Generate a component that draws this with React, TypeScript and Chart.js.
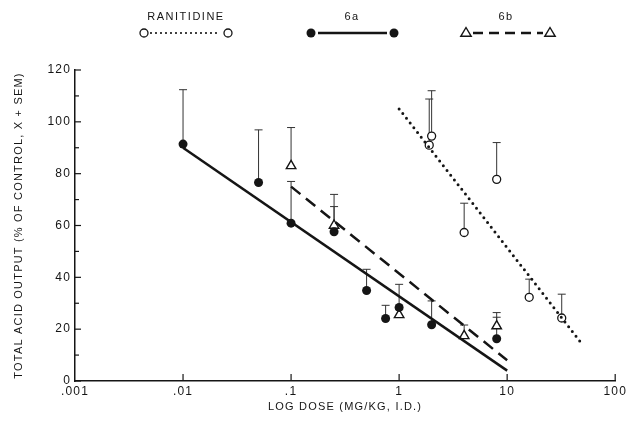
import React, { useEffect, useRef } from "react";
import { Chart, registerables } from "chart.js";

Chart.register(...registerables);

// ---- data ----
const xTickValues = [0.001, 0.01, 0.1, 1, 10, 100];
const xTickLabels = [".001", ".01", ".1", "1", "10", "100"];
const yTickValues = [0, 20, 40, 60, 80, 100, 120];
const yMinorStep = 10;

const seriesNames = ["RANITIDINE", "6a", "6b"];

const ranitidineDose = [1.9, 2.0, 4, 8, 16, 32];
const ranitidineMean = [91, 94.5, 57.3, 77.8, 32.3, 24.3];
const ranitidineSem = [17.8, 17.5, 11.3, 14.2, 7, 9.2];

const dose6a = [0.01, 0.05, 0.1, 0.25, 0.5, 0.75, 1, 2, 8];
const mean6a = [91.4, 76.6, 60.9, 57.6, 34.9, 24.1, 28.4, 21.7, 16.3];
const sem6a = [21, 20.3, 16.1, 9.7, 8.2, 5.1, 8.9, 9.2, 8.3];

const dose6b = [0.1, 0.25, 1, 4, 8];
const mean6b = [83, 60, 25.5, 17.4, 21.2];
const sem6b = [14.8, 12, 2, 4.2, 5.2];

const ranitidineFitDose = [1, 50];
const ranitidineFitValue = [105, 14];
const fit6aDose = [0.01, 10];
const fit6aValue = [90, 4];
const fit6bDose = [0.1, 10];
const fit6bValue = [75, 8];

const FONT = 'Arial, "Liberation Sans", Helvetica, sans-serif';
const INK = "#151515";

const toPoints = (xs: number[], ys: number[]) => xs.map((x, i) => ({ x, y: ys[i] }));

function drawMarker(ctx: CanvasRenderingContext2D, kind: string, x: number, y: number) {
  ctx.save();
  ctx.strokeStyle = INK;
  if (kind === "open") {
    ctx.fillStyle = "#fff";
    ctx.lineWidth = 1.3;
    ctx.beginPath();
    ctx.arc(x, y, 4, 0, Math.PI * 2);
    ctx.fill();
    ctx.stroke();
  } else if (kind === "filled") {
    ctx.fillStyle = INK;
    ctx.beginPath();
    ctx.arc(x, y, 4.5, 0, Math.PI * 2);
    ctx.fill();
  } else {
    ctx.fillStyle = "#fff";
    ctx.lineWidth = 1.4;
    const r = 5.5;
    ctx.beginPath();
    ctx.moveTo(x, y - r);
    ctx.lineTo(x + r * 0.95, y + r * 0.6);
    ctx.lineTo(x - r * 0.95, y + r * 0.6);
    ctx.closePath();
    ctx.fill();
    ctx.stroke();
  }
  ctx.restore();
}

const spacingPlugin = {
  id: "spacing",
  beforeUpdate(chart: any) {
    (chart.ctx as any).letterSpacing = "1.2px";
  },
  beforeDraw(chart: any) {
    (chart.ctx as any).letterSpacing = "1.2px";
  },
};

const errorBarPlugin = {
  id: "errorBars",
  beforeDatasetsDraw(chart: any) {
    const { ctx, scales } = chart;
    chart.data.datasets.forEach((ds: any) => {
      if (!ds.sem) return;
      ctx.save();
      ctx.strokeStyle = "#333";
      ctx.lineWidth = 1;
      ds.data.forEach((p: any, i: number) => {
        const x = scales.x.getPixelForValue(p.x);
        const y0 = scales.y.getPixelForValue(p.y);
        const y1 = scales.y.getPixelForValue(p.y + ds.sem[i]);
        ctx.beginPath();
        ctx.moveTo(x, y0);
        ctx.lineTo(x, y1);
        ctx.moveTo(x - 4, y1);
        ctx.lineTo(x + 4, y1);
        ctx.stroke();
      });
      ctx.restore();
    });
  },
};

const axisTickPlugin = {
  id: "axisTicks",
  afterDraw(chart: any) {
    const { ctx, scales, chartArea } = chart;
    ctx.save();
    ctx.strokeStyle = INK;
    ctx.lineWidth = 1.2;
    for (let v = 0; v <= 120; v += yMinorStep) {
      const y = scales.y.getPixelForValue(v);
      const len = v % 20 === 0 ? 6 : 4;
      ctx.beginPath();
      ctx.moveTo(chartArea.left, y);
      ctx.lineTo(chartArea.left + len, y);
      ctx.stroke();
    }
    xTickValues.slice(1).forEach((v) => {
      const x = scales.x.getPixelForValue(v);
      ctx.beginPath();
      ctx.moveTo(x, chartArea.bottom);
      ctx.lineTo(x, chartArea.bottom - 7);
      ctx.stroke();
    });
    ctx.restore();
  },
};

const legendPlugin = {
  id: "customLegend",
  afterDraw(chart: any) {
    const { ctx } = chart;
    const items = [
      { name: seriesNames[0], cx: 186, x0: 144, x1: 228, marker: "open", dash: [0, 5], cap: "round", width: 2.2 },
      { name: seriesNames[1], cx: 352, x0: 311, x1: 394, marker: "filled", dash: [], cap: "butt", width: 2.5 },
      { name: seriesNames[2], cx: 506, x0: 466, x1: 550, marker: "tri", dash: [10, 6], cap: "butt", width: 2.5 },
    ];
    ctx.save();
    (ctx as any).letterSpacing = "1.5px";
    ctx.fillStyle = INK;
    ctx.font = `11px ${FONT}`;
    ctx.textAlign = "center";
    ctx.textBaseline = "middle";
    items.forEach((it) => {
      ctx.fillText(it.name, it.cx, 17);
      ctx.save();
      ctx.strokeStyle = INK;
      ctx.lineWidth = it.width;
      ctx.lineCap = it.cap as CanvasLineCap;
      ctx.setLineDash(it.dash);
      ctx.beginPath();
      ctx.moveTo(it.x0 + 7, 33);
      ctx.lineTo(it.x1 - 7, 33);
      ctx.stroke();
      ctx.restore();
      drawMarker(ctx, it.marker, it.x0, 33);
      drawMarker(ctx, it.marker, it.x1, 33);
    });
    ctx.restore();
  },
};

export default function App() {
  const ref = useRef<HTMLCanvasElement | null>(null);

  useEffect(() => {
    if (!ref.current) return;
    const chart = new Chart(ref.current, {
      type: "scatter",
      data: {
        datasets: [
          {
            label: "RANITIDINE fit",
            data: toPoints(ranitidineFitDose, ranitidineFitValue),
            showLine: true,
            borderColor: INK,
            borderWidth: 3,
            borderDash: [0, 6],
            borderCapStyle: "round",
            pointRadius: 0,
          },
          {
            label: "6a fit",
            data: toPoints(fit6aDose, fit6aValue),
            showLine: true,
            borderColor: INK,
            borderWidth: 2.5,
            pointRadius: 0,
          },
          {
            label: "6b fit",
            data: toPoints(fit6bDose, fit6bValue),
            showLine: true,
            borderColor: INK,
            borderWidth: 2.5,
            borderDash: [12, 7],
            pointRadius: 0,
          },
          {
            label: seriesNames[0],
            data: toPoints(ranitidineDose, ranitidineMean),
            sem: ranitidineSem,
            showLine: false,
            pointStyle: "circle",
            pointRadius: 4,
            pointBackgroundColor: "#fff",
            pointBorderColor: INK,
            pointBorderWidth: 1.3,
          } as any,
          {
            label: seriesNames[1],
            data: toPoints(dose6a, mean6a),
            sem: sem6a,
            showLine: false,
            pointStyle: "circle",
            pointRadius: 4.5,
            pointBackgroundColor: INK,
            pointBorderColor: INK,
            pointBorderWidth: 0,
          } as any,
          {
            label: seriesNames[2],
            data: toPoints(dose6b, mean6b),
            sem: sem6b,
            showLine: false,
            pointStyle: "triangle",
            pointRadius: 5.5,
            pointBackgroundColor: "#fff",
            pointBorderColor: INK,
            pointBorderWidth: 1.4,
          } as any,
        ],
      },
      options: {
        responsive: false,
        animation: false,
        layout: { padding: { top: 70, right: 9, left: 0, bottom: 0 } },
        plugins: { legend: { display: false }, tooltip: { enabled: false } },
        scales: {
          x: {
            type: "logarithmic",
            min: 0.001,
            max: 100,
            afterBuildTicks: (s: any) => {
              s.ticks = xTickValues.map((v) => ({ value: v }));
            },
            afterFit: (s: any) => {
              s.height = 41;
            },
            ticks: {
              autoSkip: false,
              maxRotation: 0,
              color: INK,
              font: { size: 12, family: FONT },
              padding: 3,
              callback: (_v: any, i: number) => xTickLabels[i],
            },
            grid: { display: false, drawTicks: false },
            border: { display: true, color: INK, width: 1.5 },
            title: {
              display: true,
              text: "LOG DOSE (MG/KG, I.D.)",
              color: INK,
              font: { size: 11, family: FONT },
              padding: { top: 0, bottom: 8 },
            },
          },
          y: {
            type: "linear",
            min: 0,
            max: 120,
            afterBuildTicks: (s: any) => {
              s.ticks = yTickValues.map((v) => ({ value: v }));
            },
            afterFit: (s: any) => {
              s.width = 75;
            },
            ticks: {
              color: INK,
              font: { size: 12, family: FONT },
              padding: 4,
            },
            grid: { display: false, drawTicks: false },
            border: { display: true, color: INK, width: 1.5 },
            title: {
              display: true,
              text: "TOTAL ACID OUTPUT (% OF CONTROL, X + SEM)",
              color: INK,
              font: { size: 11, family: FONT },
              padding: { top: 12, bottom: 0 },
            },
          },
        },
      },
      plugins: [spacingPlugin, errorBarPlugin, axisTickPlugin, legendPlugin],
    });
    return () => chart.destroy();
  }, []);

  return (
    <div style={{ position: "fixed", left: 0, top: 0, width: 630, height: 422, background: "#fff" }}>
      <canvas ref={ref} width={630} height={422} style={{ display: "block" }} />
    </div>
  );
}
